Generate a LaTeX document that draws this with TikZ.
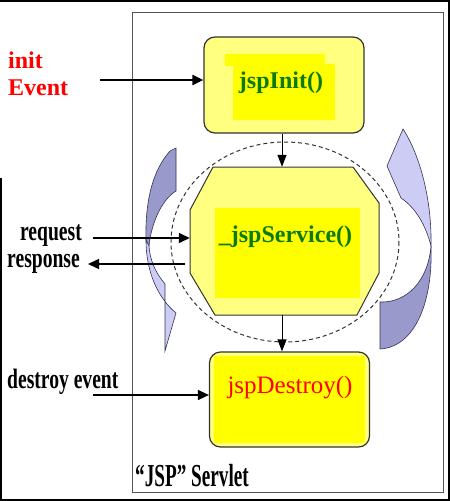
\documentclass[tikz,border=0pt]{standalone}
\usepackage{fontspec}
\usepackage{graphicx}
\setmainfont{Liberation Serif}
\usetikzlibrary{arrows.meta}
\definecolor{rimyellow}{HTML}{FFFF80}
\definecolor{hiyellow}{HTML}{FFFF00}
\definecolor{txtgreen}{HTML}{0A7A0A}
\definecolor{darkband}{HTML}{9999CC}
\definecolor{lightband}{HTML}{CCCCF5}
\definecolor{bandline}{HTML}{333355}
\definecolor{framegray}{HTML}{555555}
\tikzset{
  box/.style={draw=black!80, line width=1.2pt, rounded corners=11pt, fill=rimyellow,
    minimum width=160pt, minimum height=96pt, inner sep=0pt},
  ghost/.style={inner sep=0pt, minimum width=189pt, minimum height=148pt},
  lbl/.style={inner sep=0pt, font=\fontsize{24}{28}\selectfont\bfseries},
  cond/.style={inner sep=0pt, font=\fontsize{28}{32}\selectfont\bfseries},
  flow/.style={line width=1.5pt, -{Triangle[length=11pt,width=10pt]}},
  vflow/.style={line width=1pt, -{Triangle[length=12pt,width=9pt]}},
  band/.style={draw=bandline, line width=0.6pt},
}
\begin{document}
\begin{tikzpicture}[x=1pt,y=-1pt]
\useasboundingbox (0,0) rectangle (450,501);
\fill[white] (0,0) rectangle (450,501);
% outer frame
\draw[line width=2pt] (1,178) -- (1,500) -- (449,500) -- (449,1) -- (0,1);
% servlet frame
\draw[framegray, line width=1pt] (132,12) rectangle (443,492);

% curved arrows (left)
\filldraw[band, fill=darkband] (170,151) -- (176,148) -- (176,191)
  .. controls (161,200) and (151,225) .. (149,246) -- (146,240)
  .. controls (145,200) and (153,170) .. (170,151) -- cycle;
\filldraw[band, fill=lightband] (146,240)
  .. controls (146,272) and (158,298) .. (176,313) -- (165,351) -- (165,284)
  .. controls (155,272) and (150,260) .. (149,246) -- cycle;
% curved arrows (right)
\filldraw[band, fill=lightband] (403,129)
  .. controls (420,155) and (432,200) .. (431,246)
  .. controls (426,226) and (416,208) .. (401,198) -- (387,166) -- cycle;
\filldraw[band, fill=darkband] (431,246)
  .. controls (433,302) and (415,347) .. (380,349) -- (380,302)
  .. controls (406,303) and (428,282) .. (431,246) -- cycle;

% dashed ellipse
\draw[black!80, line width=1pt, dash pattern=on 4pt off 3pt] (285,242) ellipse [x radius=114, y radius=100];

% boxes
\node[box] (init) at (284,85) {};
\fill[hiyellow] (225,54) rectangle (325,66);
\fill[hiyellow] (233,64) rectangle (335,120);

\filldraw[draw=black!80, line width=1pt, fill=rimyellow]
  (213,167) -- (353,167) -- (379,203) -- (379,273) -- (357,315) -- (215,315) -- (190,273) -- (190,210) -- cycle;
\fill[hiyellow] (215,208) rectangle (360,298);
\node[ghost] (svc) at (284.5,241) {};

\node[box, minimum height=95pt] (dest) at (289.5,399.5) {};
\fill[hiyellow] (214,356) rectangle (365,443);

% box texts
\node[lbl, txtgreen, anchor=base] (tinit) at (281,88) {jspInit()};
\node[lbl, txtgreen, anchor=base] (tsvc) at (285.5,242) {\_jspService()};
\node[inner sep=0pt, red, anchor=base, font=\fontsize{25}{30}\selectfont] (tdest) at (290,393) {jspDestroy()};

% left labels
\node[lbl, red, anchor=base west] (linit) at (8,68) {init};
\node[lbl, red, anchor=base west] (levent) at (8,95) {Event};
\node[cond, anchor=base east] (lreq) at (82,240) {\scalebox{0.7}[1]{request}};
\node[cond, anchor=base east] (lresp) at (80,267) {\scalebox{0.7}[1]{response}};
\node[cond, anchor=base west] (ldest) at (7,388) {\scalebox{0.7}[1]{destroy event}};
\node[inner sep=0pt, anchor=base west, font=\fontsize{32}{36}\selectfont\bfseries] (lserv) at (135,486) {\scalebox{0.6}[1]{``JSP'' Servlet}};

% connectors
\coordinate (ainit) at (100,80);
\coordinate (areq) at (93,238);
\coordinate (aresp) at (88,264);
\coordinate (adest) at (93,395);
\draw[flow, line width=2pt] (ainit) -- (ainit -| init.west);
\draw[flow] (areq) -- (areq -| svc.west);
\draw[flow] ([xshift=-5pt]aresp -| svc.west) -- (aresp);
\draw[flow] (adest) -- (adest -| dest.west);
\draw[vflow] ([xshift=-2pt]init.south) -- ([xshift=-2pt]init.south |- svc.north);
\draw[vflow] ([xshift=-2.5pt]svc.south) -- ([xshift=-2.5pt]svc.south |- dest.north);
\end{tikzpicture}
\end{document}
